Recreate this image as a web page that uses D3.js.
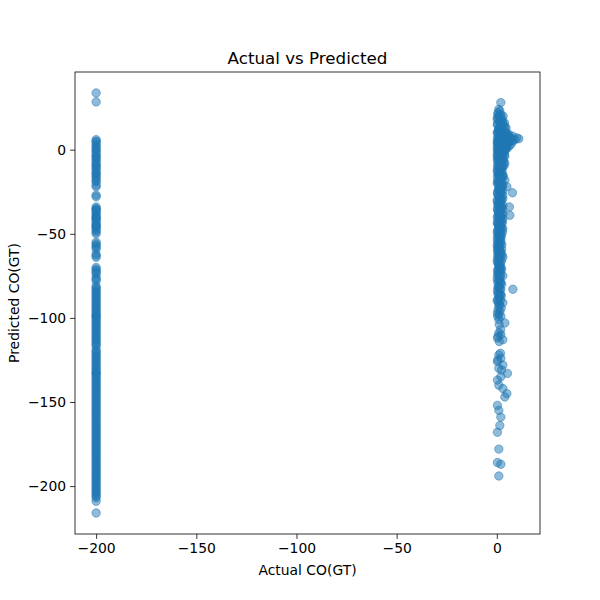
<!DOCTYPE html>
<html>
<head>
<meta charset="utf-8">
<script src="https://cdn.jsdelivr.net/npm/d3@7"></script>
<style>
  body { margin: 0; background: #fff; }
  text { font-family: "DejaVu Sans", sans-serif; }
</style>
</head>
<body>
<div id="chart"></div>
<script>
// readings where actual CO(GT) was the -200 missing-value code
var missingActual = -200;
var missingPred = [33.7, 28.4,
  6, 5, 4.5, 3, 2, 1, 0, -1, -2, -3.5, -4, -5, -6, -7, -8.5, -9, -10, -11, -12, -13.5, -14,
  -15, -16, -17, -18.5, -19, -21, -22, -27, -28,
  -34, -35, -35.5, -36, -37, -38, -39, -40, -40.5, -41, -42, -43, -44, -45, -45.5, -46, -47, -48, -49, -50,
  -55, -56, -57, -58, -59, -62, -63, -64, -70, -71, -72, -73, -74, -76, -77, -78,
  -81, -82, -83, -84, -85, -86, -87, -88, -89, -90, -91, -92, -93, -94, -95, -96, -97, -98, -99, -99, -100,
  -101, -102, -103, -104, -105, -106, -107, -108, -109, -110, -111, -112, -113, -114, -115, -116, -117,
  -119, -120, -121, -122, -123, -124, -125, -126, -127, -128, -129, -130, -131, -132, -133, -133, -134,
  -135, -136, -137, -138, -139, -140, -141, -142, -143, -144, -145, -146, -147, -148, -149, -150, -151,
  -152, -153, -154, -155, -156, -157, -158, -159, -160, -161, -162, -163, -164, -165, -166, -167, -168,
  -169, -170, -171, -172, -173, -174, -175, -176, -177, -178, -179, -180, -181, -182, -183, -184, -185,
  -186, -187, -188, -189, -190, -191, -192, -193, -194, -195, -196, -197, -198, -199, -200, -201, -202,
  -203, -204, -205, -206, -207, -209, -216];

// readings with a real actual value: [actual, predicted]
var validPts = [
  [2, 28], [1, 24], [0.5, 21], [2, 20], [0.2, 18], [1.5, 17], [3, 16], [0.2, 15], [2, 14], [4, 13],
  [1, 12], [3, 11], [0.2, 10], [5, 10], [2, 9], [6, 9], [1, 8], [4, 8], [8, 8], [0.3, 7],
  [3, 7], [7, 7], [10, 7], [11, 6.5], [2, 6], [5, 6], [9, 6], [0.2, 5], [1, 4], [4, 5],
  [6, 5], [8, 5], [3, 4], [0.3, 3], [2, 3], [5, 3], [7, 3], [1, 2], [4, 2], [6, 2],
  [0.2, 1], [3, 1], [5, 1], [2, 0], [4, 0], [0.3, -1], [1, -1], [3, -2], [0.2, -3], [2, -3],
  [4, -4], [1, -5], [3, -6], [0.2, -6], [2, -7], [4, -8], [1, -9], [0.3, -10], [3, -10], [2, -12],
  [0.2, -13], [1, -14], [3, -15], [0.3, -16], [2, -17], [4, -18], [1, -19], [0.2, -20], [3, -21], [2, -23],
  [5, -22], [7.8, -25.6], [1, -24], [0.3, -26], [3, -27], [2, -29], [0.2, -30], [1, -32], [3, -33], [6.3, -34],
  [0.3, -35], [2, -36], [1, -38], [6.5, -39], [0.2, -40], [3, -41], [2, -43], [0.3, -44], [1, -46], [3, -47],
  [0.2, -49], [2, -50], [1, -52], [0.3, -54], [2, -55], [0.2, -57], [1, -58], [0.3, -60], [2, -61], [1, -63],
  [3, -64], [0.2, -66], [1, -68], [2, -70], [0.3, -72], [1, -74], [3, -75], [0.2, -77], [2, -79], [1, -81],
  [8, -83], [0.3, -84], [2, -86], [1, -88], [0.2, -90], [3, -91], [1, -93], [0.3, -97], [2, -99], [1, -101],
  [4, -103], [1, -109], [2, -110], [0.3, -112], [3, -113], [1, -122], [2, -124], [0.3, -126], [3, -128], [1, -130],
  [5.3, -133], [2, -135], [0.3, -137], [1, -140], [3, -142], [5, -145], [4, -147], [0.3, -152], [1, -155], [2, -159],
  [1.5, -164], [0.3, -168], [1, -178], [0.3, -186], [2, -187], [1, -194]
];

// the dense core of the valid readings near zero
var validCore = [
  [0.6, 22], [1.8, 21], [0.3, 19], [2.7, 18], [1.2, 17], [3.8, 16], [0.5, 15], [2.2, 14], [4.6, 13], [1.0, 12],
  [2.9, 11], [0.4, 10], [4.2, 10], [1.7, 9], [3.3, 8], [5.5, 8], [0.8, 7], [2.4, 6], [4.8, 6], [6.8, 6],
  [1.4, 5], [3.6, 4], [5.8, 4], [0.3, 4], [2.0, 3], [4.4, 2], [1.1, 2], [3.0, 1], [0.5, 0], [2.5, -1],
  [4.0, -1], [1.5, -2], [0.3, -4], [2.8, -4], [1.2, -6], [3.4, -7], [0.5, -8], [2.2, -9], [1.4, -11], [0.3, -12],
  [2.6, -13], [1.0, -15], [3.2, -16], [0.4, -18], [1.9, -19], [0.8, -21], [2.7, -22], [1.3, -23], [0.4, -25], [2.1, -26],
  [1.0, -28], [3.0, -29], [0.3, -31], [1.8, -31], [0.9, -33], [2.5, -34], [0.4, -36], [1.5, -37], [3.1, -38], [0.7, -39],
  [2.2, -40], [1.2, -42], [0.3, -43], [2.6, -44], [1.0, -45], [1.9, -47], [0.5, -48], [2.8, -49], [1.3, -51], [0.3, -52],
  [2.1, -53], [0.9, -55], [1.7, -56], [0.4, -58], [2.4, -59], [1.1, -60], [0.5, -62], [1.8, -63], [0.9, -65], [2.3, -66],
  [0.4, -67], [1.4, -69], [0.7, -71], [2.0, -72], [1.2, -73], [0.3, -75], [1.7, -76], [0.9, -78], [2.4, -80], [0.5, -82],
  [1.5, -83], [0.8, -85], [2.2, -87], [0.4, -89], [1.3, -92], [0.7, -95], [1.6, -96], [0.4, -99], [1.2, -104], [0.6, -111],
  [1.8, -121], [0.5, -125], [2.4, -131]
];

// more readings filling the core between about 20 and -90
var validCore2 = [
  [1.5, 23], [3.1, 20], [0.9, 19.5], [2.0, 17.5], [3.5, 14.5], [1.4, 13.5], [0.7, 11.5], [2.3, 10.5], [3.7, 9.5], [1.2, 9.5],
  [4.9, 7.5], [2.9, 7.5], [6.2, 7.5], [1.6, 6.5], [3.9, 6.5], [7.5, 5.5], [0.9, 5.5], [2.7, 5], [5.2, 4.5], [4.6, 3.5],
  [1.7, 3.5], [3.4, 2.5], [0.8, 1.5], [2.3, 1.5], [4.7, 0.5], [1.3, 0.5], [3.6, -0.5], [0.8, -2.5], [2.4, -2.5], [3.8, -3],
  [1.9, -4.5], [0.7, -5.5], [2.9, -5.5], [1.6, -7.5], [3.6, -9.5], [0.9, -10.5], [2.5, -11], [1.8, -13.5], [0.7, -14.5], [2.8, -15.5],
  [1.4, -17], [2.5, -18.5], [0.6, -19.5], [1.6, -20.5], [2.3, -21.5], [0.9, -23.5], [1.8, -25], [2.9, -24.5], [0.6, -27], [1.5, -28.5],
  [2.4, -30], [1.2, -30.5], [0.5, -32.5], [2.0, -33.5], [1.4, -35], [2.9, -35.5], [0.8, -37], [2.2, -38], [1.6, -39.5], [0.6, -41],
  [1.9, -41.5], [2.8, -42.5], [0.8, -44.5], [1.6, -45.5], [2.4, -46.5], [0.7, -47.5], [1.2, -49], [2.3, -51], [0.6, -50.5], [1.6, -53],
  [0.5, -55.5], [2.5, -56.5], [1.3, -57.5], [0.7, -59.5], [1.8, -60.5], [1.2, -62], [2.6, -62.5], [0.4, -64], [1.5, -65.5], [1.9, -68],
  [0.8, -68.5], [1.2, -70.5], [2.4, -71], [0.6, -73.5], [1.9, -74], [1.3, -77], [0.5, -79], [1.7, -79.5], [1.0, -81.5], [2.0, -83],
  [0.6, -86], [1.4, -86.5], [1.8, -89.5], [0.9, -90.5], [2.2, -94], [1.0, -98], [1.9, -107], [1.2, -114]
];

var points = missingPred.map(function(p){ return [missingActual, p]; })
    .concat(validPts)
    .concat(validCore)
    .concat(validCore2);

var margin = {top: 72, right: 60, bottom: 66, left: 75},
    width = 600 - margin.left - margin.right,
    height = 600 - margin.top - margin.bottom;

var svg = d3.select("#chart").append("svg")
    .attr("width", 600)
    .attr("height", 600);

var g = svg.append("g")
    .attr("transform", "translate(" + margin.left + "," + margin.top + ")");

// matplotlib style 5% padding round the data
function padded(ext){
    var pad = (ext[1] - ext[0]) * 0.05;
    return [ext[0] - pad, ext[1] + pad];
}

var x = d3.scaleLinear()
    .domain(padded(d3.extent(points, function(d){ return d[0]; })))
    .range([0, width]);

var y = d3.scaleLinear()
    .domain(padded(d3.extent(points, function(d){ return d[1]; })))
    .range([height, 0]);

g.selectAll("circle")
    .data(points)
    .enter().append("circle")
    .attr("cx", function(d){ return x(d[0]); })
    .attr("cy", function(d){ return y(d[1]); })
    .attr("r", 4.2)
    .attr("fill", "#1f77b4")
    .attr("fill-opacity", 0.5)
    .attr("stroke", "#1f77b4")
    .attr("stroke-opacity", 0.5)
    .attr("stroke-width", 1);

var xAxis = g.append("g")
    .attr("transform", "translate(0," + height + ")")
    .call(d3.axisBottom(x).tickValues([-200, -150, -100, -50, 0]).tickSizeOuter(0).tickSize(4.9).tickPadding(4));

var yAxis = g.append("g")
    .call(d3.axisLeft(y).tickValues([-200, -150, -100, -50, 0]).tickSizeOuter(0).tickSize(4.9).tickPadding(4));

[xAxis, yAxis].forEach(function(a){
    a.select(".domain").remove();
    a.selectAll("text").style("font-size", "13.9px").attr("fill", "#000");
    a.selectAll("line").attr("stroke", "#000").attr("stroke-width", 0.8);
});

g.append("rect")
    .attr("width", width)
    .attr("height", height)
    .attr("fill", "none")
    .attr("stroke", "#000")
    .attr("stroke-width", 0.8);

svg.append("text")
    .attr("x", margin.left + width / 2)
    .attr("y", 64)
    .attr("text-anchor", "middle")
    .style("font-size", "16.7px")
    .text("Actual vs Predicted");

svg.append("text")
    .attr("x", margin.left + width / 2)
    .attr("y", 575)
    .attr("text-anchor", "middle")
    .style("font-size", "13.9px")
    .text("Actual CO(GT)");

svg.append("text")
    .attr("transform", "translate(19," + (margin.top + height / 2) + ") rotate(-90)")
    .attr("text-anchor", "middle")
    .style("font-size", "13.9px")
    .text("Predicted CO(GT)");
</script>
</body>
</html>
